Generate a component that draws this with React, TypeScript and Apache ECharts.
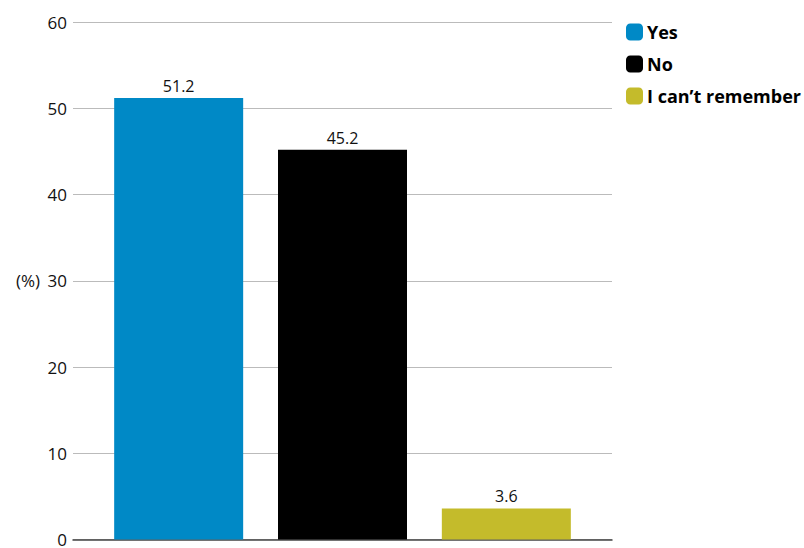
import React, { useEffect, useRef } from "react";
import * as echarts from "echarts";

const seriesNames = ["Yes", "No", "I can\u2019t remember"];
const seriesValues = [51.2, 45.2, 3.6];
const seriesColors = ["#0089c6", "#000000", "#c4bb2b"];
const categories = ["Answer"];
const yTicks = { min: 0, max: 60, interval: 10 };

export default function App() {
  const ref = useRef<HTMLDivElement>(null);
  useEffect(() => {
    document.body.style.margin = "0";
    const chart = echarts.init(ref.current!, null, { renderer: "svg" });
    const font = "'Open Sans', 'Noto Sans', sans-serif";
    chart.setOption({
      animation: false,
      textStyle: { fontFamily: font },
      grid: { left: 73, right: 192, top: 22, bottom: 2, containLabel: false },
      legend: {
        orient: "vertical",
        left: 621,
        top: 18,
        itemWidth: 17,
        itemHeight: 17,
        itemGap: 14,
        icon: "roundRect",
        textStyle: { fontSize: 18, fontWeight: "bold", color: "#000", fontFamily: font, padding: [0, 0, 0, -1] },
        data: seriesNames,
      },
      xAxis: {
        type: "category",
        data: categories,
        axisLine: { lineStyle: { color: "#444", width: 1.5 } },
        axisTick: { show: false },
        axisLabel: { show: false },
      },
      yAxis: {
        type: "value",
        min: yTicks.min,
        max: yTicks.max,
        interval: yTicks.interval,
        name: "(%)",
        nameLocation: "middle",
        nameRotate: 0,
        nameGap: 33,
        nameTextStyle: { fontSize: 17, color: "#111", fontFamily: font },
        axisLine: { show: false },
        axisTick: { show: false },
        axisLabel: { fontSize: 17, color: "#111", margin: 6, fontFamily: font },
        splitLine: { lineStyle: { color: "#bbb", width: 1 } },
      },
      series: seriesNames.map((name, i) => ({
        name,
        type: "bar",
        data: [seriesValues[i]],
        barWidth: 129,
        barGap: "27%",
        itemStyle: { color: seriesColors[i] },
        label: {
          show: true,
          position: "top",
          distance: 4,
          fontSize: 16,
          color: "#111",
          fontFamily: font,
        },
      })),
    });
    return () => chart.dispose();
  }, []);
  return <div ref={ref} style={{ width: 804, height: 548 }} />;
}
